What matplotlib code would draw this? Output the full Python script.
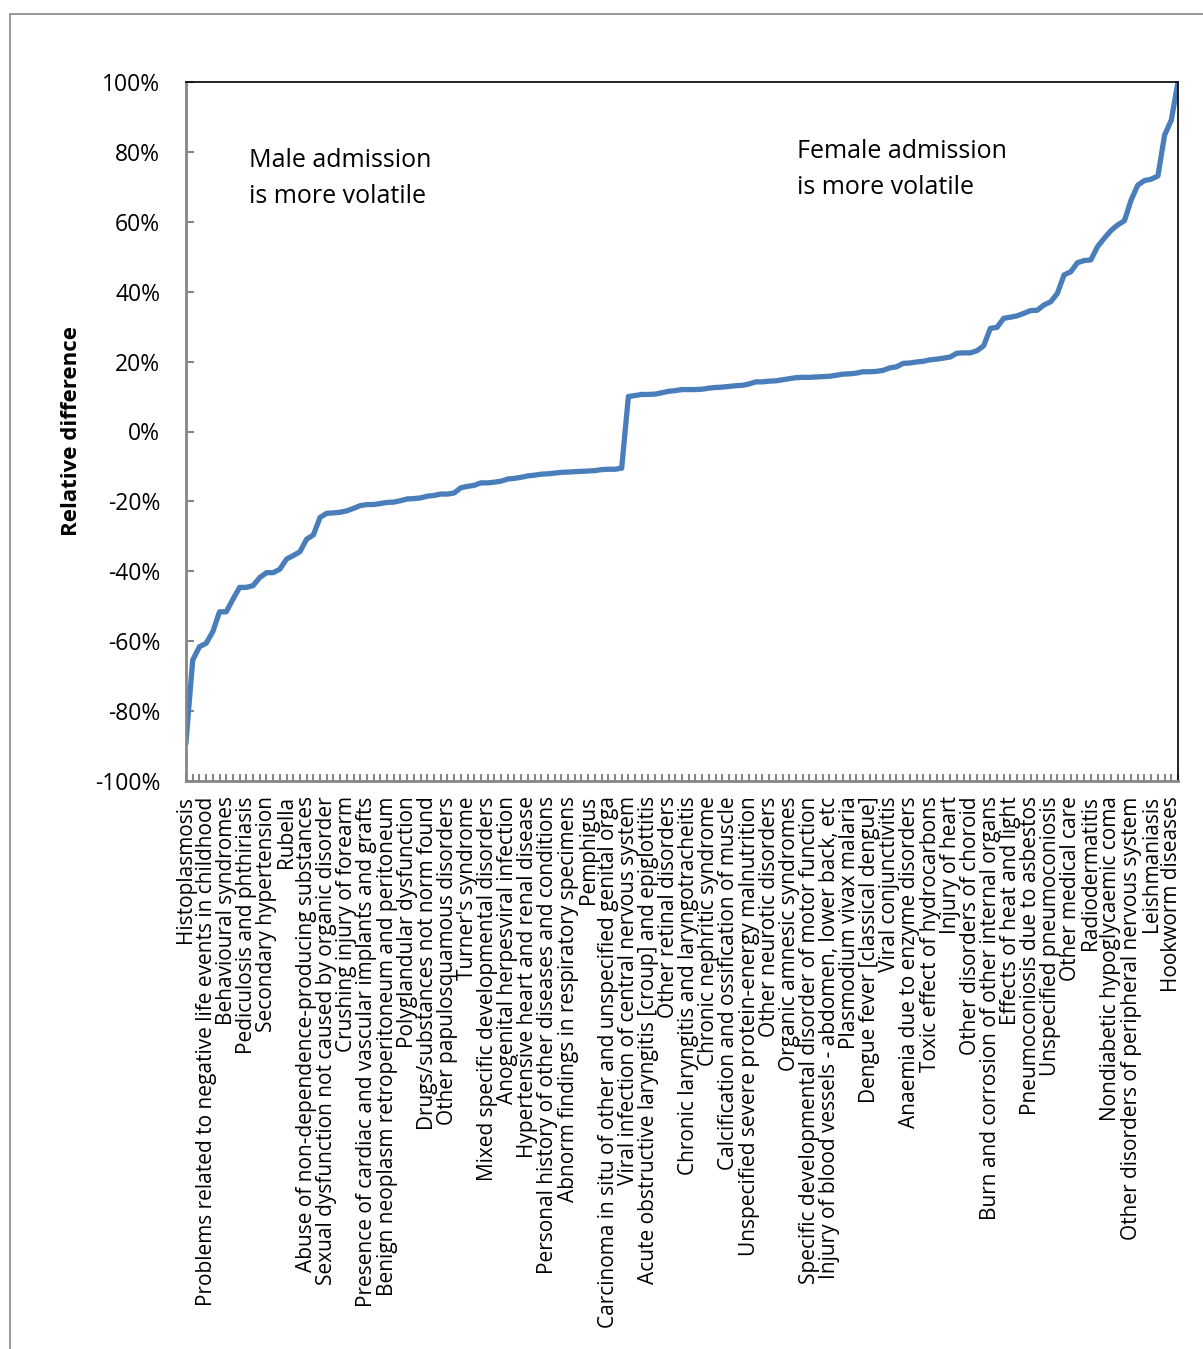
import numpy as np
import matplotlib
matplotlib.use("Agg")
import matplotlib.pyplot as plt
from matplotlib.patches import Rectangle
from matplotlib.ticker import FuncFormatter, MultipleLocator

plt.rcParams['font.family'] = ['Open Sans', 'DejaVu Sans']

# Relative difference (%) per diagnosis, sorted ascending (149 diagnoses)
rel_diff = [
    -88.8, -65.4, -61.6, -60.6, -57.3, -51.6, -51.6, -48.0, -44.6, -44.6,
    -44.1, -41.8, -40.4, -40.4, -39.4, -36.5, -35.5, -34.4, -30.8, -29.6,
    -24.6, -23.4, -23.3, -23.1, -22.7, -22.0, -21.2, -20.9, -20.9, -20.6,
    -20.3, -20.2, -19.8, -19.3, -19.2, -19.0, -18.5, -18.3, -17.9, -17.9,
    -17.6, -16.1, -15.7, -15.4, -14.7, -14.7, -14.5, -14.2, -13.6, -13.4,
    -13.1, -12.7, -12.5, -12.2, -12.1, -11.9, -11.7, -11.6, -11.5, -11.4,
    -11.3, -11.2, -10.9, -10.8, -10.8, -10.5,
    10.0, 10.3, 10.6, 10.6, 10.7, 11.1, 11.5, 11.7, 12.0, 12.0,
    12.0, 12.1, 12.4, 12.6, 12.7, 12.9, 13.1, 13.2, 13.6, 14.2,
    14.2, 14.4, 14.5, 14.8, 15.1, 15.4, 15.5, 15.5, 15.6, 15.7,
    15.8, 16.1, 16.4, 16.5, 16.7, 17.1, 17.1, 17.2, 17.5, 18.2,
    18.5, 19.5, 19.6, 19.9, 20.1, 20.5, 20.7, 21.0, 21.3, 22.4,
    22.5, 22.5, 23.1, 24.5, 29.5, 29.8, 32.4, 32.7, 33.1, 33.8,
    34.6, 34.7, 36.2, 37.1, 39.5, 44.8, 45.7, 48.3, 48.9, 49.1,
    52.9, 55.3, 57.5, 59.1, 60.3, 66.2, 70.5, 71.8, 72.2, 73.1,
    84.8, 89.1, 100.0,
]

# every third diagnosis is labelled on the axis
shown_labels = [
    "Histoplasmosis",
    "Problems related to negative life events in childhood",
    "Behavioural syndromes",
    "Pediculosis and phthiriasis",
    "Secondary hypertension",
    "Rubella",
    "Abuse of non-dependence-producing substances",
    "Sexual dysfunction not caused by organic disorder",
    "Crushing injury of forearm",
    "Presence of cardiac and vascular implants and grafts",
    "Benign neoplasm retroperitoneum and peritoneum",
    "Polyglandular dysfunction",
    "Drugs/substances not norm found",
    "Other papulosquamous disorders",
    "Turner's syndrome",
    "Mixed specific developmental disorders",
    "Anogenital herpesviral infection",
    "Hypertensive heart and renal disease",
    "Personal history of other diseases and conditions",
    "Abnorm findings in respiratory specimens",
    "Pemphigus",
    "Carcinoma in situ of other and unspecified genital orga",
    "Viral infection of central nervous system",
    "Acute obstructive laryngitis [croup] and epiglottitis",
    "Other retinal disorders",
    "Chronic laryngitis and laryngotracheitis",
    "Chronic nephritic syndrome",
    "Calcification and ossification of muscle",
    "Unspecified severe protein-energy malnutrition",
    "Other neurotic disorders",
    "Organic amnesic syndromes",
    "Specific developmental disorder of motor function",
    "Injury of blood vessels - abdomen, lower back, etc",
    "Plasmodium vivax malaria",
    "Dengue fever [classical dengue]",
    "Viral conjunctivitis",
    "Anaemia due to enzyme disorders",
    "Toxic effect of hydrocarbons",
    "Injury of heart",
    "Other disorders of choroid",
    "Burn and corrosion of other internal organs",
    "Effects of heat and light",
    "Pneumoconiosis due to asbestos",
    "Unspecified pneumoconiosis",
    "Other medical care",
    "Radiodermatitis",
    "Nondiabetic hypoglycaemic coma",
    "Other disorders of peripheral nervous system",
    "Leishmaniasis",
    "Hookworm diseases",
]

n = len(rel_diff)
x = np.arange(n)
grey = '#868686'

fig = plt.figure(figsize=(12.03, 13.49), dpi=100)
ax = fig.add_axes([186/1203, 1 - 781/1349, 992/1203, 699/1349])

ax.plot(x, rel_diff, color='#4A7EBB', lw=3.8, solid_joinstyle='round')

ax.set_xlim(0, n - 1)
ax.set_ylim(-100, 100)
ax.yaxis.set_major_locator(MultipleLocator(20))
ax.yaxis.set_major_formatter(FuncFormatter(lambda v, p: f"{v:.0f}%"))

ax.set_xticks(x[::3])
ax.set_xticklabels(shown_labels, rotation=90, fontsize=15)
ax.set_xticks(x, minor=True)

ax.tick_params(axis='y', direction='in', length=6, width=1.5, color=grey,
               labelsize=16.5, pad=18.5)
ax.tick_params(axis='x', which='both', direction='in', length=5, width=1.5,
               color=grey, pad=11)

ax.spines['left'].set_color(grey)
ax.spines['left'].set_linewidth(2)
ax.spines['bottom'].set_color(grey)
ax.spines['bottom'].set_linewidth(2)
ax.spines['top'].set_linewidth(1.2)
ax.spines['right'].set_linewidth(1.2)

ax.set_ylabel('Relative difference', fontsize=16, fontweight='bold', labelpad=9)

ax.text(0.0635, 0.905, 'Male admission\nis more volatile', transform=ax.transAxes,
        fontsize=18, va='top', ha='left', linespacing=1.58)
ax.text(0.616, 0.919, 'Female admission\nis more volatile', transform=ax.transAxes,
        fontsize=18, va='top', ha='left', linespacing=1.58)

# outer chart border (cut off at right and bottom)
fig.patches.append(Rectangle((10/1203, -0.1), 1.2, 1.1 - 14/1349,
                             transform=fig.transFigure, fill=False,
                             edgecolor=grey, lw=1.2))

fig.savefig('out.png', dpi=100)
